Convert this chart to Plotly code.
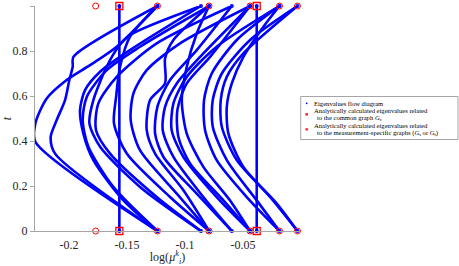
import plotly.graph_objects as go

# ---- data ----
x_tickvals = [-0.2, -0.15, -0.1, -0.05]
x_ticktext = ["-0.2", "-0.15", "-0.1", "-0.05"]
y_tickvals = [0, 0.2, 0.4, 0.6, 0.8, 1]
y_ticktext = ["0", "0.2", "0.4", "0.6", "0.8", "1"]

common_eigs = [-0.1566, -0.0382]                                   # G_c
specific_eigs = [-0.177, -0.1238, -0.0793, -0.0439, -0.0186, -0.0031]  # G_s / G_t

A_x = [-0.1238, -0.2290, -0.2290, -0.2192, -0.2020, -0.1819, -0.1589, -0.1238]
A_t = [0, 0.396, 0.478, 0.589, 0.671, 0.737, 0.819, 1.0]
B_x = [-0.1238, -0.2120, -0.2158, -0.2106, -0.2034, -0.1997, -0.1968, -0.1962, -0.1238]
B_t = [0, 0.344, 0.418, 0.493, 0.582, 0.671, 0.730, 0.774, 1.0]
C_x = [-0.1238, -0.1531, -0.1790, -0.1876, -0.1905, -0.1862, -0.1732, -0.1474, -0.0863]
C_t = [0, 0.136, 0.315, 0.433, 0.537, 0.626, 0.708, 0.804, 1.0]
D_x = [-0.1238, -0.1618, -0.1833, -0.1882, -0.1847, -0.1675, -0.1388, -0.0793]
D_t = [0, 0.196, 0.374, 0.493, 0.596, 0.715, 0.819, 1.0]
E_x = [-0.0863, -0.1388, -0.1732, -0.1824, -0.1790, -0.1675, -0.1574, -0.1474, -0.0863]
E_t = [0, 0.196, 0.374, 0.478, 0.582, 0.730, 0.819, 0.871, 1.0]
F_x = [-0.0863, -0.1244, -0.1646, -0.1767, -0.1747, -0.1589, -0.1244, -0.0597]
F_t = [0, 0.151, 0.344, 0.448, 0.567, 0.685, 0.834, 1.0]
G_x = [-0.0793, -0.1129, -0.1502, -0.1612, -0.1594, -0.1560, -0.1474, -0.1238]
G_t = [0, 0.151, 0.344, 0.478, 0.596, 0.730, 0.864, 1.0]
H_x = [-0.0793, -0.1071, -0.1388, -0.1468, -0.1445, -0.1330, -0.1043, -0.0439]
H_t = [0, 0.166, 0.359, 0.493, 0.611, 0.715, 0.834, 1.0]
I_x = [-0.0793, -0.1014, -0.1258, -0.1330, -0.1301, -0.1172, -0.1172, -0.1100, -0.0793]
I_t = [0, 0.181, 0.344, 0.448, 0.582, 0.656, 0.767, 0.849, 1.0]
J_x = [-0.0597, -0.0899, -0.1186, -0.1258, -0.1238, -0.1129, -0.0899, -0.0597]
J_t = [0, 0.166, 0.329, 0.433, 0.552, 0.671, 0.804, 1.0]
K_x = [-0.0597, -0.0842, -0.1100, -0.1192, -0.1172, -0.1071, -0.0842, -0.0439]
K_t = [0, 0.151, 0.329, 0.448, 0.552, 0.656, 0.789, 1.0]
L_x = [-0.0439, -0.0727, -0.1014, -0.1115, -0.1100, -0.0985, -0.0727, -0.0186]
L_t = [0, 0.151, 0.329, 0.448, 0.567, 0.685, 0.819, 1.0]
M_x = [-0.0439, -0.0669, -0.0957, -0.1057, -0.1066, -0.0985, -0.0784, -0.0439]
M_t = [0, 0.136, 0.300, 0.418, 0.537, 0.656, 0.774, 1.0]
N_x = [-0.0439, -0.0612, -0.0842, -0.0985, -0.1028, -0.0985, -0.0899, -0.0793]
N_t = [0, 0.136, 0.285, 0.433, 0.582, 0.730, 0.878, 1.0]
O_x = [-0.0186, -0.0468, -0.0727, -0.0827, -0.0836, -0.0770, -0.0554, -0.0186]
O_t = [0, 0.151, 0.315, 0.448, 0.582, 0.700, 0.849, 1.0]
P_x = [-0.0186, -0.0382, -0.0640, -0.0761, -0.0761, -0.0683, -0.0439, -0.0031]
P_t = [0, 0.136, 0.315, 0.463, 0.582, 0.700, 0.849, 1.0]
Q_x = [-0.0031, -0.0267, -0.0554, -0.0683, -0.0692, -0.0640, -0.0497, -0.0031]
Q_t = [0, 0.151, 0.315, 0.463, 0.582, 0.685, 0.789, 1.0]
R_x = [-0.0031, -0.0209, -0.0497, -0.0626, -0.0640, -0.0597, -0.0497, -0.0324, -0.0186]
R_t = [0, 0.122, 0.285, 0.433, 0.552, 0.656, 0.774, 0.908, 1.0]

flows = [(A_x, A_t), (B_x, B_t), (C_x, C_t), (D_x, D_t), (E_x, E_t), (F_x, F_t),
         (G_x, G_t), (H_x, H_t), (I_x, I_t), (J_x, J_t), (K_x, K_t), (L_x, L_t),
         (M_x, M_t), (N_x, N_t), (O_x, O_t), (P_x, P_t), (Q_x, Q_t), (R_x, R_t)]

t_ends = [0, 1]

# ---- figure ----
BLUE = "#0000ff"
RED = "#ff0000"
FONT = "Liberation Serif"

fig = go.Figure()

for fx, ft in flows:
    sizes = [4] + [0] * (len(fx) - 2) + [4]
    fig.add_trace(go.Scatter(
        x=fx, y=ft, mode="lines+markers",
        line=dict(color=BLUE, width=2.6, shape="spline", smoothing=0.75),
        marker=dict(color=BLUE, size=sizes, line=dict(width=0)),
        showlegend=False, hoverinfo="skip", cliponaxis=False))

for cx in common_eigs:
    fig.add_trace(go.Scatter(
        x=[cx, cx], y=t_ends, mode="lines+markers",
        line=dict(color=BLUE, width=2.6),
        marker=dict(color=BLUE, size=4),
        showlegend=False, hoverinfo="skip", cliponaxis=False))

fig.add_trace(go.Scatter(
    x=common_eigs * 2, y=[0] * len(common_eigs) + [1] * len(common_eigs),
    mode="markers",
    marker=dict(symbol="square-open", size=7, color=RED, line=dict(width=1.3, color=RED)),
    showlegend=False, hoverinfo="skip", cliponaxis=False))

fig.add_trace(go.Scatter(
    x=specific_eigs * 2, y=[0] * len(specific_eigs) + [1] * len(specific_eigs),
    mode="markers",
    marker=dict(symbol="circle-open", size=6, color=RED, line=dict(width=1, color=RED)),
    showlegend=False, hoverinfo="skip", cliponaxis=False))

# ---- custom legend (box, glyphs, text) ----
L, W, T, H = 35, 265, 6, 225
def px(x):
    return (x - L) / W
def py(y):
    return (T + H - y) / H

shapes = [
    dict(type="rect", xref="paper", yref="paper",
         x0=px(300.7), x1=px(458), y0=py(139.5), y1=py(96.5),
         line=dict(color="#a6a6a6", width=1), fillcolor="white", layer="above"),
    dict(type="circle", xref="paper", yref="paper",
         x0=px(305.8), x1=px(307.6), y0=py(104.2), y1=py(102.4),
         line=dict(width=0), fillcolor=BLUE, layer="above"),
    dict(type="rect", xref="paper", yref="paper",
         x0=px(305.4), x1=px(308.0), y0=py(115.6), y1=py(113.0),
         line=dict(width=0), fillcolor="#ff3030", layer="above"),
    dict(type="circle", xref="paper", yref="paper",
         x0=px(305.3), x1=px(308.1), y0=py(130.7), y1=py(127.9),
         line=dict(width=0), fillcolor="#ff3030", layer="above"),
]

leg_lines = [
    (313, 103.3, "Eigenvalues flow diagram"),
    (313, 110.7, "Analytically calculated eigenvalues related"),
    (315.5, 118.3, "to the common graph <i>G</i><sub>c</sub>"),
    (313, 125.7, "Analytically calculated eigenvalues related"),
    (315.5, 133.3, "to the measurement-specific graphs (<i>G</i><sub>s</sub> or <i>G</i><sub>t</sub>)"),
]
annotations = [
    dict(x=px(xx), y=py(yy), xref="paper", yref="paper", text=tx, showarrow=False,
         xanchor="left", yanchor="middle", borderpad=0,
         font=dict(family=FONT, size=6.6, color="black"))
    for xx, yy, tx in leg_lines
]

fig.update_layout(
    width=459, height=266,
    margin=dict(l=35, r=159, t=6, b=35, autoexpand=False),
    paper_bgcolor="white", plot_bgcolor="white",
    font=dict(family=FONT, color="#262626", size=12),
    shapes=shapes, annotations=annotations,
    showlegend=False,
)
fig.update_xaxes(
    range=[-0.2293, -0.0009], tickvals=x_tickvals, ticktext=x_ticktext,
    automargin=False,
    showgrid=False, zeroline=False, showline=True, linecolor="#a6a6a6", linewidth=1,
    ticks="outside", ticklen=3, tickcolor="rgba(0,0,0,0)",
    tickfont=dict(family=FONT, size=12, color="#262626"),
    title=dict(text="log(<i>μ</i><sup><i>k</i></sup><sub><i>i</i></sub>)",
               font=dict(family=FONT, size=12, color="#262626"), standoff=0),
)
fig.update_yaxes(
    range=[0, 1], tickvals=y_tickvals, ticktext=y_ticktext,
    automargin=False,
    showgrid=False, zeroline=False, showline=True, linecolor="#a6a6a6", linewidth=1,
    ticks="outside", ticklen=4, tickcolor="#a6a6a6",
    tickfont=dict(family=FONT, size=12, color="#262626"),
    title=dict(text="<i>t</i>", font=dict(family=FONT, size=12, color="#262626"), standoff=2),
)

fig.write_html("out.html", config={"displayModeBar": False},
               post_script="document.body.style.margin='0px';")
